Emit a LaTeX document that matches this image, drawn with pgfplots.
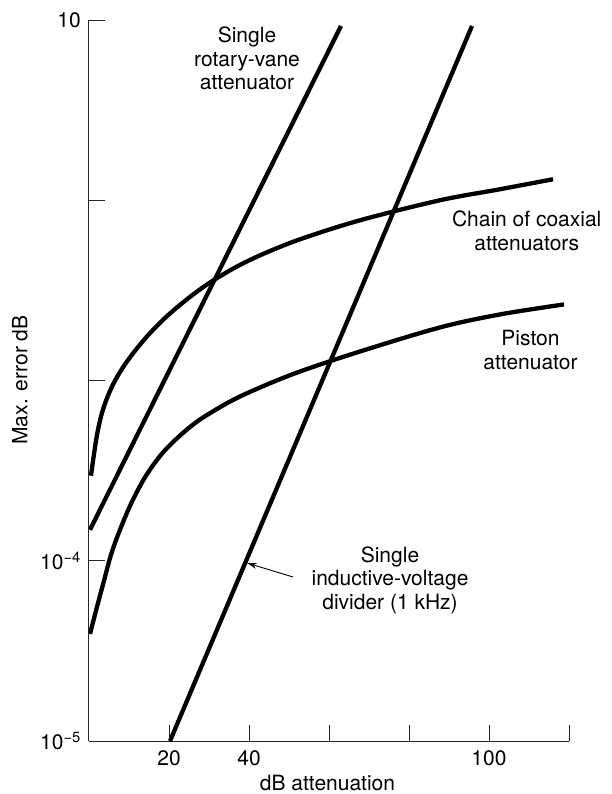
\documentclass[border=0pt]{standalone}
\usepackage{fontspec}
\setmainfont{TeX Gyre Heros}
\usepackage{pgfplots}
\pgfplotsset{compat=1.18}
\usetikzlibrary{arrows.meta}
\begin{document}
\fontsize{21bp}{23.7bp}\selectfont
\begin{tikzpicture}
\useasboundingbox (-89bp,-53bp) rectangle (523bp,741bp);
\begin{axis}[
  at={(0,0)}, anchor=south west,
  scale only axis, width=480bp, height=721bp,
  xmin=0, xmax=120,
  ymode=log, ymin=1e-5, ymax=1e-1,
  axis lines*=left,
  axis line style={-, line width=1bp, black!85},
  every tick/.style={line width=1bp, black!85},
  tick align=inside,
  major tick length=16bp,
  yminorticks=false,
  xtick={20,40,60,80,100,120},
  xticklabels={20,40,{},{},100,{}},
  ytick={1e-5,1e-4,1e-3,1e-2,1e-1},
  yticklabels={10\textsuperscript{−5},10\textsuperscript{−4},{},{},10},
  xticklabel style={inner sep=0pt, anchor=north, yshift=-9bp},
  yticklabel style={inner sep=0pt, anchor=east, xshift=-8bp},
  cycle list={{black, line width=4.3bp, no markers}},
]
% Single rotary-vane attenuator
\addplot[black, line width=4.3bp, no markers] coordinates {(0.25,1.486e-4) (63.0,0.09268)};
% Single inductive-voltage divider (1 kHz)
\addplot[black, line width=4.3bp, no markers] coordinates {(20.25,1e-5) (95.75,0.09268)};
% Chain of coaxial attenuators
\addplot[black, line width=4.3bp, no markers, smooth, tension=0.55] coordinates {
 (0.5,2.966e-4) (1.925,4.885e-4) (3.5,6.901e-4) (6,9.502e-4) (9.5,1.275e-3)
 (14.5,1.756e-3) (20.25,2.356e-3) (27.75,3.203e-3) (35.25,4.084e-3)
 (42.75,4.948e-3) (52.75,6.072e-3) (67.75,7.743e-3) (87.75,1.0e-2)
 (102.75,1.151e-2) (116,1.308e-2)};
% Piston attenuator
\addplot[black, line width=4.3bp, no markers, smooth, tension=0.55] coordinates {
 (0.25,3.930e-5) (2.0,5.551e-5) (3.75,7.743e-5) (5.5,1.080e-4) (7.75,1.486e-4)
 (10.75,2.127e-4) (14.25,2.966e-4) (18.25,3.930e-4) (22.75,4.948e-4)
 (27.75,6.072e-4) (35.25,7.643e-4) (42.75,9.145e-4) (52.75,1.122e-3)
 (67.75,1.449e-3) (87.75,1.970e-3) (102.75,2.326e-3) (118.75,2.643e-3)};
\end{axis}
\draw[line width=0.9bp, -{Stealth[length=10bp,width=6bp]}] (204bp,164bp) -- (158bp,178bp);
\node[align=center, inner sep=0pt] at (158bp,682.5bp) {Single\\rotary-vane\\attenuator};
\node[align=center, inner sep=0pt] at (437.7bp,510.5bp) {Chain of coaxial\\attenuators};
\node[align=center, inner sep=0pt] at (441.5bp,391bp) {Piston\\attenuator};
\node[align=center, inner sep=0pt] at (301bp,160.8bp) {Single\\inductive-voltage\\divider (1 kHz)};
\node[rotate=90, inner sep=0pt] at (-69bp,361bp) {Max. error dB};
\node[anchor=base, inner sep=0pt] at (238.5bp,-49.5bp) {dB attenuation};
\end{tikzpicture}
\end{document}
